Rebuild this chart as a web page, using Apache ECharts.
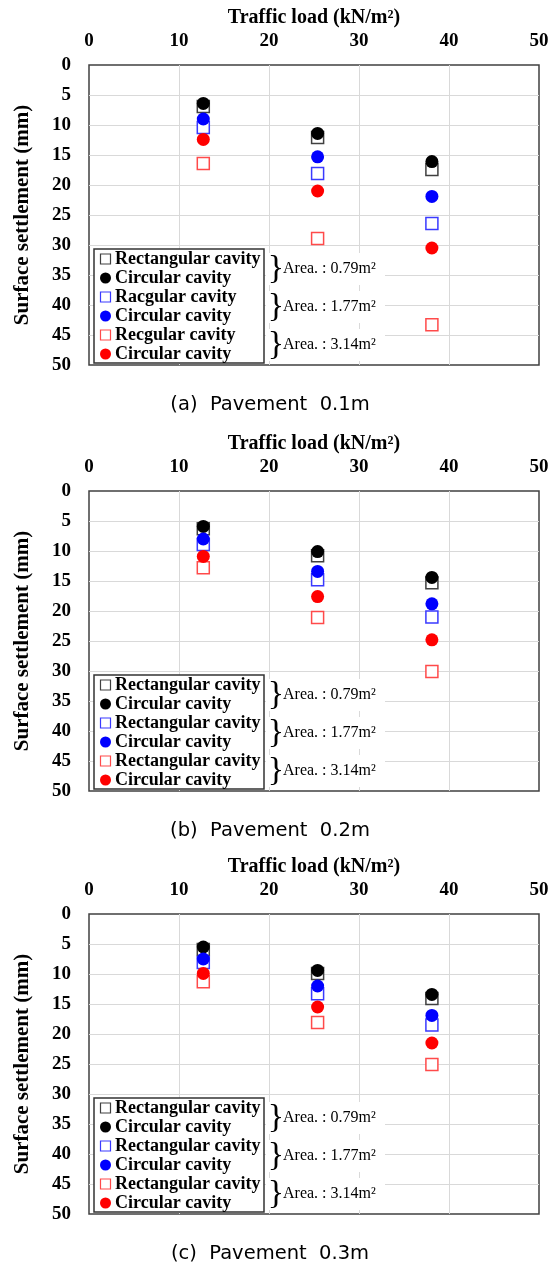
<!DOCTYPE html>
<html>
<head>
<meta charset="utf-8">
<script src="https://cdn.jsdelivr.net/npm/echarts@6/dist/echarts.min.js"></script>
<style>
  html, body { margin: 0; padding: 0; background: #fff; }
  #main { width: 560px; height: 1263px; }
</style>
</head>
<body>
<div id="main"></div>
<script>
// traffic load (kN/m2)
var loads = [12.7, 25.4, 38.1];

// surface settlement (mm) - pavement 0.1m
var a_rect079 = [6.9, 12.1, 17.4];
var a_circ079 = [6.4, 11.4, 16.1];
var a_rect177 = [10.4, 18.1, 26.4];
var a_circ177 = [9.0, 15.3, 21.9];
var a_rect314 = [16.4, 28.9, 43.3];
var a_circ314 = [12.4, 21.0, 30.5];

// pavement 0.2m
var b_rect079 = [6.3, 10.8, 15.3];
var b_circ079 = [5.9, 10.1, 14.4];
var b_rect177 = [8.9, 14.8, 21.0];
var b_circ177 = [8.0, 13.4, 18.8];
var b_rect314 = [12.8, 21.1, 30.1];
var b_circ314 = [10.9, 17.6, 24.8];

// pavement 0.3m
var c_rect079 = [5.9, 9.9, 14.1];
var c_circ079 = [5.5, 9.4, 13.4];
var c_rect177 = [8.1, 13.3, 18.5];
var c_circ177 = [7.5, 12.0, 16.9];
var c_rect314 = [11.3, 18.1, 25.1];
var c_circ314 = [9.9, 15.5, 21.5];

var legendA = ['Rectangular cavity', 'Circular cavity', 'Racgular cavity', 'Circular cavity', 'Recgular cavity', 'Circular cavity'];
var legendBC = ['Rectangular cavity', 'Circular cavity', 'Rectangular cavity', 'Circular cavity', 'Rectangular cavity', 'Circular cavity'];
var areaLabels = ['Area. : 0.79m\u00B2', 'Area. : 1.77m\u00B2', 'Area. : 3.14m\u00B2'];
var captions = ['(a)  Pavement  0.1m', '(b)  Pavement  0.2m', '(c)  Pavement  0.3m'];

var panels = [
  { rect: [a_rect079, a_rect177, a_rect314], circ: [a_circ079, a_circ177, a_circ314], legend: legendA },
  { rect: [b_rect079, b_rect177, b_rect314], circ: [b_circ079, b_circ177, b_circ314], legend: legendBC },
  { rect: [c_rect079, c_rect177, c_rect314], circ: [c_circ079, c_circ177, c_circ314], legend: legendBC }
];

var sqColors = ['#404040', '#3a3aff', '#ff4a4a'];
var ciColors = ['#000000', '#0000ff', '#ff0000'];
var serif = '"Liberation Serif", "Times New Roman", serif';

var tops = [65, 491, 914];
var gridLeft = 89, gridW = 450, gridH = 300;

var grids = [], xAxes = [], yAxes = [], series = [], graphics = [];

function toPts(vals) {
  return loads.map(function (x, i) { return [x, vals[i]]; });
}

panels.forEach(function (p, k) {
  grids.push({
    left: gridLeft, top: tops[k], width: gridW, height: gridH,
    show: true, backgroundColor: '#fff', borderColor: '#404040', borderWidth: 1.5
  });
  xAxes.push({
    gridIndex: k, type: 'value', position: 'top', min: 0, max: 50, interval: 10,
    name: 'Traffic load (kN/m\u00B2)', nameLocation: 'middle', nameGap: 37,
    nameTextStyle: { fontFamily: serif, fontWeight: 'bold', fontSize: 20, color: '#000' },
    axisLine: { show: false }, axisTick: { show: false },
    axisLabel: { margin: 14, fontFamily: serif, fontWeight: 'bold', fontSize: 19, color: '#000' },
    splitLine: { show: true, showMinLine: false, showMaxLine: false, lineStyle: { color: '#d9d9d9', width: 1 } }
  });
  yAxes.push({
    gridIndex: k, type: 'value', inverse: true, min: 0, max: 50, interval: 5,
    name: 'Surface settlement (mm)', nameLocation: 'middle', nameGap: 56,
    nameTextStyle: { fontFamily: serif, fontWeight: 'bold', fontSize: 21, color: '#000' },
    axisLine: { show: false }, axisTick: { show: false },
    axisLabel: { margin: 18, fontFamily: serif, fontWeight: 'bold', fontSize: 19, color: '#000' },
    splitLine: { show: true, showMinLine: false, showMaxLine: false, lineStyle: { color: '#d9d9d9', width: 1 } }
  });

  // hollow squares first, filled circles on top
  p.rect.forEach(function (vals, g) {
    series.push({
      type: 'scatter', xAxisIndex: k, yAxisIndex: k, data: toPts(vals),
      symbol: 'rect', symbolSize: 12, z: 2,
      itemStyle: { color: '#fff', borderColor: sqColors[g], borderWidth: 1.5, opacity: 1 }
    });
  });
  p.circ.forEach(function (vals, g) {
    series.push({
      type: 'scatter', xAxisIndex: k, yAxisIndex: k, data: toPts(vals),
      symbol: 'circle', symbolSize: 13, z: 3,
      itemStyle: { color: ciColors[g], opacity: 1 }
    });
  });

  // legend box
  var T = tops[k] + 184;
  graphics.push({
    type: 'rect', z: 100,
    shape: { x: 94, y: T, width: 170, height: 114 },
    style: { fill: '#fff', stroke: '#333', lineWidth: 1.5 }
  });
  p.legend.forEach(function (label, i) {
    var cy = T + 10 + 19 * i;
    var g = Math.floor(i / 2);
    if (i % 2 === 0) {
      graphics.push({
        type: 'rect', z: 101,
        shape: { x: 100.5, y: cy - 5, width: 10, height: 10 },
        style: { fill: '#fff', stroke: sqColors[g], lineWidth: 1.2 }
      });
    } else {
      graphics.push({
        type: 'circle', z: 101,
        shape: { cx: 105.5, cy: cy, r: 5.5 },
        style: { fill: ciColors[g] }
      });
    }
    graphics.push({
      type: 'text', z: 101,
      style: { text: label, x: 115, y: cy, fontFamily: serif, fontWeight: 'bold', fontSize: 18, fill: '#000', verticalAlign: 'middle' }
    });
  });

  // area annotations
  areaLabels.forEach(function (txt, g) {
    var cy = T + 20 + 38 * g;
    graphics.push({
      type: 'rect', z: 100,
      shape: { x: 266, y: cy - 16, width: 119, height: 32 },
      style: { fill: '#fff' }
    });
    graphics.push({
      type: 'text', z: 101,
      style: { text: '}', x: 276, y: cy, fontFamily: serif, fontSize: 34, fill: '#000', align: 'center', verticalAlign: 'middle' }
    });
    graphics.push({
      type: 'text', z: 101,
      style: { text: txt, x: 283, y: cy, fontFamily: serif, fontSize: 16, fill: '#000', verticalAlign: 'middle' }
    });
  });

  // caption
  graphics.push({
    type: 'text', z: 101,
    style: { text: captions[k], x: 270, y: tops[k] + 340, fontFamily: '"DejaVu Sans", sans-serif', fontSize: 19.5, fill: '#000', align: 'center', verticalAlign: 'middle' }
  });
});

var myChart = echarts.init(document.getElementById('main'));
myChart.setOption({
  animation: false,
  backgroundColor: '#fff',
  grid: grids,
  xAxis: xAxes,
  yAxis: yAxes,
  series: series,
  graphic: graphics
});
</script>
</body>
</html>
